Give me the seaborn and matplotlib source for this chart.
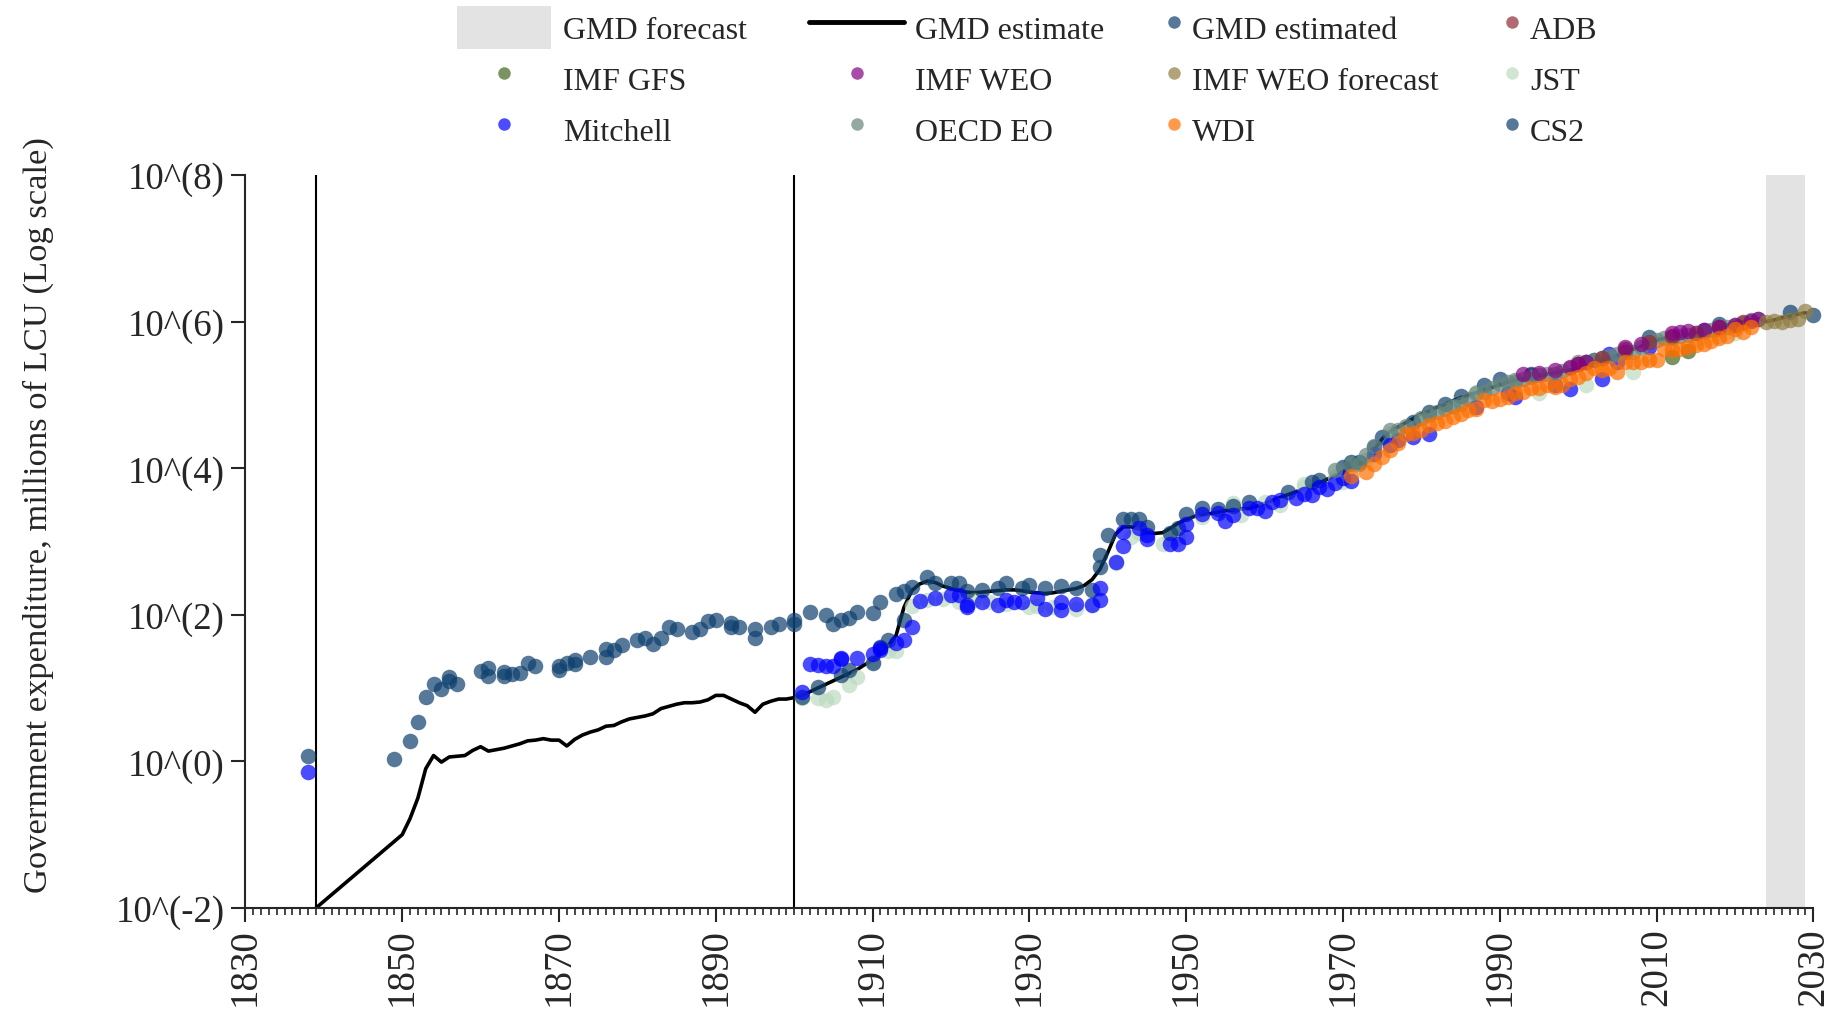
import numpy as np
import matplotlib
matplotlib.use('Agg')
import matplotlib.pyplot as plt
from matplotlib.lines import Line2D
from matplotlib.patches import Patch
from matplotlib.ticker import FixedLocator, MultipleLocator, NullLocator
import seaborn as sns

# ---- data (values are log10 of millions of LCU) ----
line_years = [1839] + list(range(1850, 2030))
line_exp = [
    -2.0,
    -1.0, -0.78, -0.5, -0.1, 0.08, -0.01, 0.06, 0.07, 0.08, 0.15,
    0.2, 0.14, 0.16, 0.18, 0.21, 0.24, 0.28, 0.29, 0.31, 0.29,
    0.29, 0.21, 0.3, 0.36, 0.4, 0.43, 0.48, 0.49, 0.54, 0.58,
    0.6, 0.62, 0.65, 0.72, 0.75, 0.78, 0.8, 0.8, 0.81, 0.84,
    0.9, 0.9, 0.85, 0.8, 0.76, 0.67, 0.78, 0.82, 0.85, 0.85,
    0.87, 0.9, 0.95, 1.0, 1.05, 1.1, 1.15, 1.2, 1.25, 1.32,
    1.38, 1.47, 1.58, 1.72, 2.1, 2.33, 2.42, 2.46, 2.44, 2.39,
    2.36, 2.33, 2.31, 2.3, 2.31, 2.32, 2.33, 2.34, 2.34, 2.33,
    2.31, 2.3, 2.29, 2.3, 2.32, 2.34, 2.36, 2.4, 2.48, 2.62,
    2.85, 3.1, 3.2, 3.2, 3.17, 3.13, 3.11, 3.12, 3.18, 3.25,
    3.3, 3.34, 3.36, 3.38, 3.4, 3.42, 3.43, 3.44, 3.45, 3.48,
    3.52, 3.56, 3.6, 3.64, 3.68, 3.72, 3.76, 3.8, 3.85, 3.9,
    3.95, 4.0, 4.06, 4.12, 4.25, 4.4, 4.5, 4.56, 4.62, 4.68,
    4.74, 4.78, 4.83, 4.87, 4.92, 4.96, 5.0, 5.03, 5.07, 5.1,
    5.14, 5.17, 5.2, 5.22, 5.24, 5.26, 5.28, 5.3, 5.32, 5.34,
    5.37, 5.41, 5.45, 5.48, 5.51, 5.54, 5.58, 5.62, 5.66, 5.72,
    5.75, 5.77, 5.79, 5.8, 5.82, 5.84, 5.86, 5.89, 5.92, 5.95,
    5.99, 6.0, 6.02, 6.04, 6.0, 6.02, 6.05, 6.07, 6.1, 6.12,
]

cs2_years = [1838, 1849, 1851, 1852, 1853, 1854, 1855, 1856, 1856, 1857,
             1860, 1861, 1861, 1863, 1863, 1864, 1865, 1866, 1867, 1870,
             1870, 1871, 1872, 1872, 1874, 1876, 1876, 1877, 1878, 1880,
             1881, 1882, 1883, 1884, 1885, 1887, 1888, 1889, 1890, 1892,
             1892, 1893, 1895, 1895, 1897, 1898, 1900, 1900, 1902, 1904,
             1905, 1906, 1907, 1908, 1910, 1911, 1913, 1914, 1915, 1917,
             1918, 1920, 1921, 1922, 1924, 1926, 1927, 1929, 1930, 1932,
             1934, 1936, 1938, 1939, 1939, 1940, 1942, 1943, 1944, 1945,
             1948, 1949, 1950, 1952, 1954, 1956, 1958, 1963, 1966, 1967,
             1970, 1971, 1972, 1974, 1975, 1979, 1981, 1983, 1985, 1988,
             1990, 1994, 1994, 2001, 2002, 2009, 2012, 2016, 2018, 2027,
             2030,
             1901, 1903, 1906, 1907, 1910, 1911, 1912, 1914]
cs2_exp = [0.08, 0.03, 0.28, 0.54, 0.88, 1.06, 0.99, 1.15, 1.10, 1.05,
           1.23, 1.27, 1.17, 1.17, 1.22, 1.19, 1.20, 1.34, 1.30, 1.30,
           1.24, 1.34, 1.33, 1.38, 1.43, 1.43, 1.53, 1.52, 1.59, 1.66,
           1.68, 1.60, 1.69, 1.84, 1.81, 1.76, 1.80, 1.92, 1.93, 1.89,
           1.84, 1.83, 1.69, 1.81, 1.83, 1.88, 1.88, 1.93, 2.04, 2.00,
           1.87, 1.93, 1.95, 2.04, 2.03, 2.18, 2.29, 2.33, 2.38, 2.52,
           2.43, 2.43, 2.43, 2.33, 2.34, 2.36, 2.43, 2.37, 2.40, 2.36,
           2.39, 2.37, 2.34, 2.65, 2.81, 3.09, 3.30, 3.30, 3.30, 3.20,
           3.11, 3.18, 3.38, 3.45, 3.44, 3.48, 3.54, 3.68, 3.81, 3.84,
           4.02, 4.09, 4.09, 4.29, 4.43, 4.63, 4.77, 4.88, 4.99, 5.13,
           5.22, 5.29, 5.27, 5.45, 5.47, 5.79, 5.79, 5.88, 5.97, 6.13,
           6.09,
           0.88, 1.02, 1.18, 1.25, 1.34, 1.56, 1.65, 1.93]

mitchell_years = [1838, 1901, 1902, 1903, 1904, 1905, 1906, 1906, 1908, 1910,
                  1911, 1911, 1913, 1914, 1915, 1916, 1918, 1920, 1921, 1922,
                  1922, 1924, 1926, 1927, 1928, 1929, 1931, 1932, 1934, 1934,
                  1936, 1938, 1939, 1939, 1941, 1942, 1942, 1944, 1945, 1945,
                  1948, 1949, 1950, 1950, 1952, 1954, 1955, 1956, 1958, 1959,
                  1960, 1961, 1962, 1964, 1965, 1966, 1967, 1968, 1969, 1970,
                  1971, 1974, 1976, 1977, 1979, 1981, 1987, 1991, 1992, 1997,
                  1999, 2003, 2004, 2005, 2006, 2009]
mitchell_exp = [-0.14, 0.95, 1.33, 1.31, 1.30, 1.30, 1.39, 1.41, 1.41, 1.47,
                1.52, 1.55, 1.62, 1.66, 1.84, 2.19, 2.23, 2.27, 2.27, 2.14,
                2.11, 2.18, 2.14, 2.20, 2.18, 2.17, 2.23, 2.08, 2.06, 2.17,
                2.15, 2.13, 2.20, 2.37, 2.72, 2.94, 3.13, 3.19, 3.09, 3.04,
                2.96, 2.97, 3.06, 3.24, 3.37, 3.39, 3.28, 3.36, 3.45, 3.46,
                3.42, 3.54, 3.56, 3.60, 3.65, 3.63, 3.75, 3.72, 3.80, 3.87,
                3.83, 4.20, 4.31, 4.38, 4.42, 4.47, 4.84, 5.02, 4.97, 5.13,
                5.08, 5.22, 5.56, 5.45, 5.59, 5.65]

jst_years = [1901, 1903, 1904, 1905, 1907, 1908, 1910, 1912, 1913, 1915,
             1917, 1919, 1921, 1923, 1925, 1927, 1930, 1931, 1933, 1936,
             1938, 1941, 1943, 1944, 1947, 1948, 1949, 1952, 1956, 1957,
             1960, 1962, 1965, 1965, 1969, 1970, 1971, 1973, 1976, 1980,
             1984, 1987, 1995, 2001, 2007, 2009, 2012, 2015, 2018, 2020]
jst_exp = [0.86, 0.86, 0.84, 0.88, 1.04, 1.15, 1.35, 1.50, 1.50, 2.12,
           2.20, 2.22, 2.18, 2.20, 2.17, 2.15, 2.11, 2.12, 2.10, 2.08,
           2.15, 2.70, 3.06, 3.11, 2.97, 3.03, 3.05, 3.33, 3.53, 3.36,
           3.54, 3.50, 3.75, 3.79, 3.88, 3.81, 4.02, 4.11, 4.47, 4.65,
           4.84, 5.04, 5.02, 5.13, 5.31, 5.49, 5.62, 5.72, 5.80, 5.85]

oecd_years = [1969, 1971, 1972, 1973, 1974, 1976, 1977, 1978, 1980, 1981,
              1982, 1983, 1984, 1985, 1986, 1987, 1988, 1989, 1990, 1991,
              1992, 1992, 1993, 1994, 1995, 1996, 1997, 1998, 1999, 2000,
              2001, 2002, 2003, 2004, 2005, 2006, 2007, 2008, 2009, 2010,
              2011, 2012, 2013, 2014, 2015, 2016, 2017, 2018, 2019, 2020,
              2021, 2022, 2023]
oecd_exp = [3.97, 4.06, 4.06, 4.18, 4.30, 4.52, 4.52, 4.58, 4.68, 4.72,
            4.76, 4.81, 4.85, 4.88, 4.95, 5.02, 5.04, 5.10, 5.15, 5.17,
            5.18, 5.20, 5.22, 5.24, 5.27, 5.29, 5.29, 5.32, 5.37, 5.45,
            5.45, 5.47, 5.50, 5.53, 5.56, 5.58, 5.59, 5.65, 5.74, 5.75,
            5.77, 5.78, 5.80, 5.82, 5.84, 5.86, 5.88, 5.90, 5.93, 5.95,
            5.98, 6.02, 6.03]

wdi_years = [1971, 1973, 1974, 1975, 1976, 1977, 1978, 1979, 1980, 1981,
             1982, 1983, 1984, 1985, 1986, 1987, 1988, 1989, 1990, 1991,
             1992, 1993, 1994, 1995, 1996, 1997, 1998, 1999, 2000, 2001,
             2002, 2003, 2004, 2005, 2006, 2007, 2008, 2009, 2010, 2011,
             2012, 2013, 2014, 2015, 2016, 2017, 2018, 2019, 2020, 2021,
             2022]
wdi_exp = [3.90, 3.95, 4.06, 4.15, 4.25, 4.34, 4.47, 4.48, 4.52, 4.59,
           4.62, 4.65, 4.70, 4.74, 4.80, 4.81, 4.93, 4.92, 4.95, 4.97,
           5.03, 5.04, 5.09, 5.09, 5.13, 5.11, 5.13, 5.22, 5.24, 5.30,
           5.36, 5.34, 5.36, 5.31, 5.45, 5.45, 5.45, 5.47, 5.47, 5.63,
           5.61, 5.62, 5.66, 5.68, 5.70, 5.74, 5.77, 5.80, 5.90, 5.86,
           5.92]

weo_years = [1993, 1995, 1997, 1999, 2000, 2001, 2006, 2008, 2012, 2013,
             2014, 2016, 2018, 2020, 2022, 2023]
weo_exp = [5.29, 5.30, 5.34, 5.38, 5.42, 5.45, 5.65, 5.70, 5.84, 5.86,
           5.87, 5.89, 5.93, 5.95, 6.01, 6.03]

weo_fc_years = [2024, 2025, 2026, 2027, 2028, 2029]
weo_fc_exp = [5.99, 6.01, 6.00, 6.02, 6.04, 6.15]

adb_years = [2000, 2003, 2006, 2009, 2012, 2015, 2018, 2021]
adb_exp = [5.42, 5.50, 5.63, 5.72, 5.80, 5.85, 5.92, 6.00]

gfs_years = [2012, 2014]
gfs_exp = [5.52, 5.60]

forecast_start, forecast_end = 2024, 2029
break_years = [1839, 1900]

x_ticks = list(range(1830, 2031, 20))
y_ticks = [-2, 0, 2, 4, 6, 8]
y_ticklabels = ['10^(-2)', '10^(0)', '10^(2)', '10^(4)', '10^(6)', '10^(8)']

colors = {
    'GMD estimated': '#0e406f',
    'ADB': '#902a37',
    'IMF GFS': '#43651d',
    'IMF WEO': '#830083',
    'IMF WEO forecast': '#927e42',
    'JST': '#bddac0',
    'Mitchell': '#0000ff',
    'OECD EO': '#65867d',
    'WDI': '#ff6f00',
    'CS2': '#0e406f',
}

sns.set_style('ticks')
plt.rcParams['font.family'] = ['Liberation Serif', 'DejaVu Serif']

fig = plt.figure(figsize=(18.37, 10.12), dpi=100)
ax = fig.add_axes([0.1336, 0.1018, 0.8535, 0.7243])

ax.axvspan(forecast_start, forecast_end, color='#e3e3e3', lw=0, zorder=0)
for yr in break_years:
    ax.axvline(yr, color='black', lw=1.5, zorder=1)

sns.lineplot(x=line_years, y=10.0 ** np.array(line_exp), color='black',
             lw=2.6, errorbar=None, ax=ax, zorder=2)

series = [
    ('JST', jst_years, jst_exp),
    ('CS2', cs2_years, cs2_exp),
    ('Mitchell', mitchell_years, mitchell_exp),
    ('OECD EO', oecd_years, oecd_exp),
    ('ADB', adb_years, adb_exp),
    ('IMF GFS', gfs_years, gfs_exp),
    ('IMF WEO', weo_years, weo_exp),
    ('IMF WEO forecast', weo_fc_years, weo_fc_exp),
    ('WDI', wdi_years, wdi_exp),
]
for name, yrs, ex in series:
    sns.scatterplot(x=yrs, y=10.0 ** np.array(ex), color=colors[name], s=125,
                    alpha=0.7, linewidth=0, ax=ax, zorder=3, clip_on=False)

ax.set_yscale('log')
ax.set_xlim(1830, 2030)
ax.set_ylim(1e-2, 1e8)
ax.xaxis.set_major_locator(FixedLocator(x_ticks))
ax.xaxis.set_minor_locator(MultipleLocator(1))
ax.yaxis.set_major_locator(FixedLocator([10.0 ** k for k in y_ticks]))
ax.yaxis.set_minor_locator(NullLocator())
ax.set_yticklabels(y_ticklabels)
ax.tick_params(axis='x', which='major', length=10, width=1.5, labelsize=28,
               pad=4, labelrotation=90)
ax.tick_params(axis='x', which='minor', length=5, width=1.2)
ax.tick_params(axis='y', which='major', length=10, width=1.5, labelsize=26.5, pad=5)
sns.despine(ax=ax)
for sp in ['left', 'bottom']:
    ax.spines[sp].set_linewidth(1.5)
ax.set_xlabel('')
ax.set_ylabel('Government expenditure, millions of LCU (Log scale)', fontsize=24.8)
ax.yaxis.set_label_coords(-0.122, 0.537)


def dot(name):
    return Line2D([], [], ls='none', marker='o', markersize=9,
                  markerfacecolor=colors[name], markeredgewidth=0,
                  alpha=0.7, label=name)


h_fc = Patch(facecolor='#e3e3e3', edgecolor='none', label='GMD forecast')
h_est = Line2D([], [], color='black', lw=3.5, label='GMD estimate')

leg_kw = dict(loc='upper left', frameon=False, fontsize=23, ncol=2,
              handleheight=1.7, labelspacing=0.24, borderpad=0, borderaxespad=0)
fig.legend(handles=[h_fc, dot('IMF GFS'), dot('Mitchell'),
                    h_est, dot('IMF WEO'), dot('OECD EO')],
           bbox_to_anchor=(0.2488, 0.993), handlelength=2.95,
           handletextpad=0.37, columnspacing=1.95, **leg_kw)
fig.legend(handles=[dot('GMD estimated'), dot('IMF WEO forecast'), dot('WDI'),
                    dot('ADB'), dot('JST'), dot('CS2')],
           bbox_to_anchor=(0.632, 0.993), handlelength=0.8,
           handletextpad=0.18, columnspacing=1.87, **leg_kw)

fig.savefig('out.png', dpi=100)
